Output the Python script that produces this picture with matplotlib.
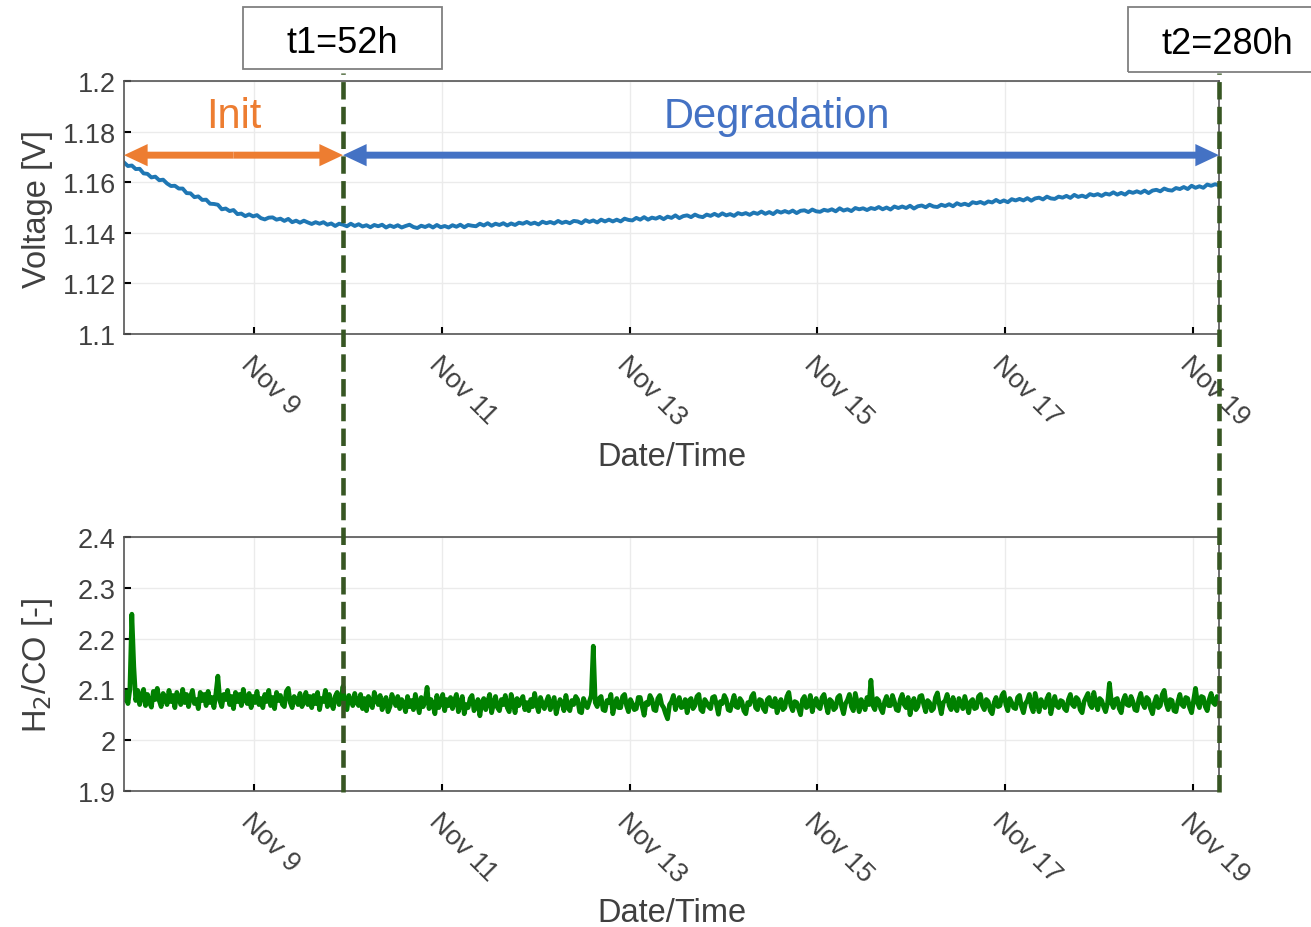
import datetime as dt
import matplotlib
matplotlib.use('Agg')
import matplotlib.pyplot as plt
import matplotlib.dates as mdates
import matplotlib.transforms as mtransforms
from matplotlib.lines import Line2D
from matplotlib.patches import Rectangle

plt.rcParams['font.family'] = ['Liberation Sans', 'DejaVu Sans']

# start of the measurement
start = dt.datetime(2022, 11, 7, 14, 40)

# voltage, one value every hour
voltage = [
    1.1678, 1.1664, 1.1666, 1.1652, 1.1653, 1.1635, 1.1633, 1.1619, 1.1622, 1.1608,
    1.1610, 1.1595, 1.1585, 1.1586, 1.1575, 1.1575, 1.1557, 1.1556, 1.1541, 1.1544,
    1.1530, 1.1531, 1.1515, 1.1514, 1.1511, 1.1493, 1.1496, 1.1486, 1.1490, 1.1474,
    1.1476, 1.1466, 1.1473, 1.1465, 1.1470, 1.1458, 1.1453, 1.1460, 1.1461, 1.1452,
    1.1456, 1.1447, 1.1455, 1.1442, 1.1448, 1.1440, 1.1448, 1.1441, 1.1435, 1.1442,
    1.1436, 1.1442, 1.1432, 1.1437, 1.1427, 1.1436, 1.1432, 1.1426, 1.1436, 1.1427,
    1.1434, 1.1425, 1.1430, 1.1422, 1.1431, 1.1426, 1.1432, 1.1421, 1.1429, 1.1423,
    1.1430, 1.1421, 1.1427, 1.1432, 1.1423, 1.1419, 1.1428, 1.1423, 1.1430, 1.1421,
    1.1431, 1.1422, 1.1427, 1.1421, 1.1430, 1.1424, 1.1432, 1.1422, 1.1431, 1.1428,
    1.1426, 1.1436, 1.1429, 1.1438, 1.1428, 1.1436, 1.1431, 1.1438, 1.1429, 1.1437,
    1.1431, 1.1440, 1.1436, 1.1443, 1.1435, 1.1440, 1.1433, 1.1444, 1.1438, 1.1443,
    1.1437, 1.1447, 1.1439, 1.1444, 1.1438, 1.1447, 1.1445, 1.1438, 1.1450, 1.1443,
    1.1449, 1.1441, 1.1452, 1.1445, 1.1452, 1.1445, 1.1452, 1.1445, 1.1456, 1.1451,
    1.1449, 1.1459, 1.1452, 1.1462, 1.1452, 1.1460, 1.1456, 1.1463, 1.1454, 1.1464,
    1.1459, 1.1469, 1.1458, 1.1466, 1.1469, 1.1462, 1.1472, 1.1465, 1.1462, 1.1472,
    1.1467, 1.1475, 1.1467, 1.1477, 1.1469, 1.1474, 1.1467, 1.1478, 1.1473, 1.1478,
    1.1471, 1.1480, 1.1475, 1.1484, 1.1475, 1.1482, 1.1474, 1.1486, 1.1480, 1.1486,
    1.1480, 1.1488, 1.1478, 1.1487, 1.1489, 1.1482, 1.1492, 1.1485, 1.1483, 1.1491,
    1.1487, 1.1493, 1.1485, 1.1497, 1.1488, 1.1493, 1.1486, 1.1498, 1.1493, 1.1497,
    1.1490, 1.1498, 1.1494, 1.1502, 1.1493, 1.1500, 1.1492, 1.1504, 1.1498, 1.1504,
    1.1498, 1.1507, 1.1496, 1.1505, 1.1508, 1.1501, 1.1511, 1.1504, 1.1502, 1.1511,
    1.1506, 1.1513, 1.1505, 1.1517, 1.1510, 1.1515, 1.1509, 1.1521, 1.1517, 1.1522,
    1.1515, 1.1524, 1.1520, 1.1530, 1.1521, 1.1528, 1.1521, 1.1533, 1.1528, 1.1534,
    1.1528, 1.1537, 1.1527, 1.1536, 1.1539, 1.1532, 1.1543, 1.1536, 1.1534, 1.1543,
    1.1539, 1.1546, 1.1538, 1.1550, 1.1542, 1.1547, 1.1541, 1.1553, 1.1548, 1.1553,
    1.1546, 1.1555, 1.1551, 1.1560, 1.1551, 1.1558, 1.1551, 1.1563, 1.1558, 1.1564,
    1.1558, 1.1567, 1.1557, 1.1567, 1.1570, 1.1564, 1.1575, 1.1569, 1.1567, 1.1577,
    1.1573, 1.1581, 1.1573, 1.1586, 1.1578, 1.1584, 1.1578, 1.1591, 1.1586, 1.1592,
    1.1588,
]
stepV_min = 60

# H2/CO ratio, one value every 30 min
ratio = [
    2.080, 2.095, 2.072, 2.100, 2.248, 2.145, 2.078, 2.098, 2.070, 2.088, 2.100, 2.068,
    2.090, 2.074, 2.065, 2.096, 2.080, 2.102, 2.078, 2.066, 2.092, 2.084, 2.070, 2.098,
    2.076, 2.088, 2.064, 2.094, 2.082, 2.070, 2.100, 2.074, 2.090, 2.066, 2.086, 2.098,
    2.072, 2.080, 2.062, 2.094, 2.078, 2.090, 2.068, 2.096, 2.074, 2.084, 2.064, 2.092,
    2.126, 2.078, 2.066, 2.090, 2.080, 2.098, 2.070, 2.086, 2.062, 2.094, 2.076, 2.090,
    2.068, 2.100, 2.080, 2.072, 2.092, 2.064, 2.086, 2.074, 2.096, 2.070, 2.082, 2.064,
    2.090, 2.076, 2.098, 2.068, 2.084, 2.062, 2.094, 2.078, 2.088, 2.070, 2.066, 2.096,
    2.102, 2.074, 2.064, 2.086, 2.080, 2.070, 2.092, 2.066, 2.076, 2.094, 2.070, 2.086,
    2.064, 2.088, 2.072, 2.094, 2.060, 2.082, 2.076, 2.098, 2.066, 2.090, 2.072, 2.062,
    2.086, 2.094, 2.070, 2.080, 2.106, 2.066, 2.060, 2.088, 2.078, 2.068, 2.092, 2.074,
    2.068, 2.090, 2.062, 2.082, 2.058, 2.086, 2.074, 2.064, 2.094, 2.080, 2.070, 2.088,
    2.060, 2.076, 2.084, 2.056, 2.066, 2.090, 2.078, 2.068, 2.086, 2.062, 2.080, 2.072,
    2.056, 2.086, 2.066, 2.078, 2.060, 2.090, 2.072, 2.054, 2.084, 2.066, 2.076, 2.104,
    2.062, 2.080, 2.070, 2.052, 2.088, 2.064, 2.074, 2.090, 2.058, 2.080, 2.068, 2.084,
    2.062, 2.078, 2.090, 2.056, 2.072, 2.086, 2.052, 2.070, 2.064, 2.082, 2.088, 2.058,
    2.068, 2.080, 2.048, 2.074, 2.082, 2.060, 2.076, 2.090, 2.054, 2.072, 2.086, 2.064,
    2.058, 2.080, 2.070, 2.088, 2.064, 2.056, 2.090, 2.074, 2.054, 2.082, 2.068, 2.078,
    2.086, 2.060, 2.074, 2.058, 2.080, 2.066, 2.092, 2.070, 2.056, 2.084, 2.072, 2.062,
    2.076, 2.086, 2.060, 2.072, 2.084, 2.052, 2.068, 2.080, 2.074, 2.058, 2.088, 2.066,
    2.058, 2.078, 2.070, 2.086, 2.080, 2.056, 2.054, 2.082, 2.072, 2.064, 2.076, 2.088,
    2.185, 2.074, 2.066, 2.082, 2.086, 2.060, 2.058, 2.078, 2.074, 2.090, 2.052, 2.070,
    2.082, 2.064, 2.064, 2.086, 2.090, 2.068, 2.056, 2.080, 2.072, 2.060, 2.062, 2.084,
    2.084, 2.066, 2.049, 2.074, 2.070, 2.088, 2.080, 2.060, 2.058, 2.082, 2.088, 2.070,
    2.064, 2.052, 2.042, 2.070, 2.076, 2.088, 2.060, 2.074, 2.084, 2.064, 2.066, 2.080,
    2.054, 2.078, 2.082, 2.062, 2.068, 2.086, 2.090, 2.060, 2.056, 2.080, 2.074, 2.066,
    2.062, 2.084, 2.086, 2.070, 2.051, 2.076, 2.072, 2.088, 2.080, 2.060, 2.058, 2.074,
    2.088, 2.066, 2.064, 2.082, 2.076, 2.058, 2.052, 2.074, 2.070, 2.086, 2.092, 2.064,
    2.060, 2.080, 2.078, 2.062, 2.056, 2.080, 2.084, 2.068, 2.066, 2.082, 2.054, 2.070,
    2.080, 2.060, 2.064, 2.086, 2.094, 2.068, 2.058, 2.076, 2.074, 2.062, 2.050, 2.080,
    2.086, 2.064, 2.068, 2.088, 2.056, 2.074, 2.082, 2.066, 2.062, 2.084, 2.090, 2.070,
    2.054, 2.080, 2.076, 2.060, 2.064, 2.084, 2.088, 2.066, 2.052, 2.072, 2.079, 2.090,
    2.066, 2.058, 2.092, 2.074, 2.056, 2.080, 2.072, 2.060, 2.084, 2.070, 2.118, 2.068,
    2.060, 2.082, 2.078, 2.062, 2.054, 2.076, 2.086, 2.068, 2.068, 2.088, 2.076, 2.060,
    2.058, 2.080, 2.090, 2.070, 2.064, 2.084, 2.050, 2.072, 2.082, 2.060, 2.066, 2.086,
    2.088, 2.070, 2.056, 2.078, 2.074, 2.058, 2.062, 2.084, 2.093, 2.070, 2.052, 2.074,
    2.078, 2.090, 2.068, 2.060, 2.084, 2.066, 2.058, 2.082, 2.072, 2.062, 2.086, 2.070,
    2.054, 2.076, 2.080, 2.062, 2.064, 2.086, 2.090, 2.068, 2.060, 2.080, 2.076, 2.058,
    2.052, 2.074, 2.084, 2.066, 2.068, 2.088, 2.094, 2.070, 2.058, 2.082, 2.074, 2.064,
    2.062, 2.084, 2.088, 2.066, 2.054, 2.072, 2.078, 2.090, 2.066, 2.056, 2.092, 2.074,
    2.056, 2.080, 2.072, 2.064, 2.082, 2.090, 2.052, 2.070, 2.086, 2.068, 2.064, 2.078,
    2.076, 2.062, 2.058, 2.080, 2.090, 2.070, 2.066, 2.084, 2.080, 2.060, 2.054, 2.076,
    2.084, 2.092, 2.070, 2.064, 2.094, 2.074, 2.060, 2.082, 2.078, 2.066, 2.056, 2.072,
    2.112, 2.074, 2.064, 2.080, 2.082, 2.062, 2.054, 2.078, 2.088, 2.070, 2.068, 2.086,
    2.076, 2.060, 2.058, 2.080, 2.092, 2.072, 2.064, 2.084, 2.080, 2.062, 2.052, 2.074,
    2.086, 2.064, 2.068, 2.090, 2.098, 2.072, 2.060, 2.080, 2.078, 2.058, 2.056, 2.076,
    2.090, 2.070, 2.066, 2.084, 2.082, 2.064, 2.054, 2.078, 2.102, 2.074, 2.064, 2.086,
    2.084, 2.066, 2.058, 2.080, 2.092, 2.074, 2.070, 2.086, 2.076,
]
stepR_min = 30

# phase limits (hours after start)
t1_hours = 56
t2_hours = 280
t1_text = 't1=52h'
t2_text = 't2=280h'

tick_dates = [dt.datetime(2022, 11, d) for d in [9, 11, 13, 15, 17, 19]]
tick_labels = ['Nov 9', 'Nov 11', 'Nov 13', 'Nov 15', 'Nov 17', 'Nov 19']
v_ticks = [1.1, 1.12, 1.14, 1.16, 1.18, 1.2]
v_labels = ['1.1', '1.12', '1.14', '1.16', '1.18', '1.2']
r_ticks = [1.9, 2.0, 2.1, 2.2, 2.3, 2.4]
r_labels = ['1.9', '2', '2.1', '2.2', '2.3', '2.4']

timesV = [start + dt.timedelta(minutes=stepV_min * i) for i in range(len(voltage))]
timesR = [start + dt.timedelta(minutes=stepR_min * i) for i in range(len(ratio))]
t0 = mdates.date2num(start)
t1 = mdates.date2num(start + dt.timedelta(hours=t1_hours))
t2 = mdates.date2num(start + dt.timedelta(hours=t2_hours))

fig = plt.figure(figsize=(13.11, 9.28), dpi=100)
ax1 = fig.add_axes([0.0946, 0.639, 0.8352, 0.2726])
ax2 = fig.add_axes([0.0946, 0.1466, 0.8352, 0.2737])

ax1.plot(timesV, voltage, color='#1f77b4', lw=2.8)
ax2.plot(timesR, ratio, color='#008000', lw=3.4)

grey = '#404040'
shift = mtransforms.ScaledTranslation(-3 / 100, 0, fig.dpi_scale_trans)
for ax, ticks, labels, lim, ylab in [
        (ax1, v_ticks, v_labels, (1.1, 1.2), 'Voltage [V]'),
        (ax2, r_ticks, r_labels, (1.9, 2.4), 'H$_2$/CO [-]')]:
    ax.set_xlim(t0, t2)
    ax.set_ylim(*lim)
    ax.set_yticks(ticks, labels)
    ax.set_xticks(mdates.date2num(tick_dates), tick_labels, rotation=-45,
                  ha='left', va='top', rotation_mode='anchor')
    for lab in ax.get_xticklabels():
        lab.set_transform(lab.get_transform() + shift)
    ax.tick_params(direction='in', length=5, width=1.5, color='black',
                   labelsize=19.5, labelcolor=grey, pad=6)
    ax.tick_params(axis='x', pad=12)
    ax.grid(True, color='#ebebeb', lw=1)
    ax.set_axisbelow(True)
    for s in ax.spines.values():
        s.set_color('#555555')
        s.set_linewidth(1.2)
    ax.set_ylabel(ylab, fontsize=23.5, color=grey, va='center')
    ax.yaxis.set_label_coords(-0.079, 0.5)
    ax.set_xlabel('Date/Time', fontsize=23.5, color=grey, va='center')

ax1.xaxis.set_label_coords(0.5, -0.485)
ax2.xaxis.set_label_coords(0.5, -0.478)

# phase arrows
orange = '#ED7D31'
blue = '#4472C4'
ya = 1.1707
for a, b, c in [(t0, t1, orange), (t1, t2, blue)]:
    mid = (a + b) / 2
    for end in (a, b):
        ax1.annotate('', xy=(end, ya), xytext=(mid, ya),
                     arrowprops=dict(arrowstyle='simple,head_length=0.85,head_width=0.8,tail_width=0.25',
                                     mutation_scale=20, color=c, lw=0,
                                     shrinkA=0, shrinkB=0),
                     annotation_clip=False)
ax1.text(mdates.date2num(start + dt.timedelta(hours=28)), 1.1818, 'Init',
         color=orange, fontsize=30, ha='center', va='baseline')
ax1.text(mdates.date2num(start + dt.timedelta(hours=167)), 1.1818, 'Degradation',
         color=blue, fontsize=30, ha='center', va='baseline')

# dashed phase limits across both panels
blend = mtransforms.blended_transform_factory(ax1.transData, fig.transFigure)
for t in (t1, t2):
    fig.add_artist(Line2D([t, t], [0.1455, 0.9203], transform=blend,
                          color='#375623', lw=3.3, dashes=(3.8, 1.6), zorder=10))

# label boxes
fig.add_artist(Rectangle((243 / 1311, 1 - 70 / 928), 199 / 1311, 62 / 928,
                         transform=fig.transFigure, fill=False,
                         edgecolor='#808080', lw=1.3))
fig.add_artist(Rectangle((1128 / 1311, 1 - 73 / 928), 200 / 1311, 65 / 928,
                         transform=fig.transFigure, fill=False,
                         edgecolor='#808080', lw=1.3))
fig.text(342 / 1311, 1 - 53 / 928, t1_text, fontsize=26, ha='center', va='baseline')
fig.text(1227 / 1311, 1 - 54 / 928, t2_text, fontsize=26, ha='center', va='baseline')

fig.savefig('out.png', dpi=100)
